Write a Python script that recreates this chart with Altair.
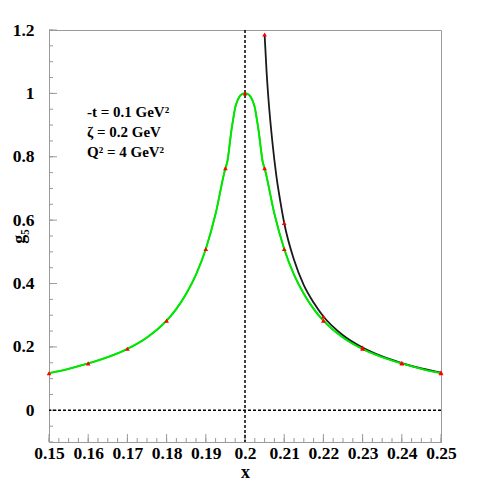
import altair as alt
import pandas as pd

# ---- data ----
green_x = [0.15, 0.155, 0.16, 0.165, 0.17, 0.175, 0.18, 0.1825, 0.185, 0.1875, 0.19, 0.1925,
           0.195, 0.1955, 0.196, 0.1965, 0.197, 0.1975, 0.198, 0.1985, 0.199, 0.2,
           0.201, 0.2015, 0.202, 0.2025, 0.203, 0.2035, 0.204, 0.2045, 0.205, 0.2075,
           0.21, 0.2125, 0.215, 0.2175, 0.22, 0.225, 0.23, 0.235, 0.24, 0.245, 0.25]
green_y = [0.117, 0.131, 0.148, 0.168, 0.194, 0.23, 0.283, 0.32, 0.368, 0.428, 0.509, 0.62,
           0.764, 0.785, 0.83, 0.88, 0.92, 0.955, 0.975, 0.988, 0.996, 1.0,
           0.996, 0.988, 0.975, 0.955, 0.92, 0.88, 0.83, 0.785, 0.764, 0.62,
           0.509, 0.428, 0.368, 0.32, 0.283, 0.23, 0.194, 0.168, 0.148, 0.131, 0.117]

black_x = [0.205, 0.2055, 0.206, 0.207, 0.208, 0.209, 0.21, 0.2125, 0.215, 0.2175,
           0.22, 0.225, 0.23, 0.235, 0.24, 0.245, 0.25]
black_y = [1.186, 1.07, 0.98, 0.845, 0.74, 0.66, 0.591, 0.475, 0.395, 0.34,
           0.296, 0.237, 0.198, 0.17, 0.149, 0.132, 0.119]

green_pts_x = [0.15, 0.16, 0.17, 0.18, 0.19, 0.195, 0.2, 0.205, 0.21, 0.22, 0.23, 0.24, 0.25]
green_pts_y = [0.117, 0.148, 0.194, 0.283, 0.509, 0.764, 1.0, 0.764, 0.509, 0.283, 0.194, 0.148, 0.117]
black_pts_x = [0.205, 0.21, 0.22, 0.23, 0.24, 0.25]
black_pts_y = [1.186, 0.591, 0.296, 0.198, 0.149, 0.119]

x_major = [0.15, 0.16, 0.17, 0.18, 0.19, 0.2, 0.21, 0.22, 0.23, 0.24, 0.25]
x_minor = [round(0.15 + 0.0025 * i, 4) for i in range(41)]
y_major = [0.0, 0.2, 0.4, 0.6, 0.8, 1.0, 1.2]
y_minor = [round(-0.1 + 0.05 * i, 3) for i in range(27)]

notes = ["-t = 0.1 GeV\u00b2", "\u03b6 = 0.2 GeV", "Q\u00b2 = 4 GeV\u00b2"]

# ---- layout / style ----
W, H = 392, 412
FONT = "Liberation Serif"
GRAY = "#9a9a9a"
xs = alt.Scale(domain=[0.15, 0.25], nice=False, zero=False)
ys = alt.Scale(domain=[-0.1, 1.2], nice=False, zero=False)

green_df = pd.DataFrame({"x": green_x, "y": green_y})
black_df = pd.DataFrame({"x": black_x, "y": black_y})
gp_df = pd.DataFrame({"x": green_pts_x, "y": green_pts_y})
bp_df = pd.DataFrame({"x": black_pts_x, "y": black_pts_y})

x_axis = alt.Axis(values=x_major, format=".2~f", ticks=False, grid=False,
                  domainColor=GRAY, labelFont=FONT, labelFontWeight="bold",
                  labelFontSize=17.5, labelColor="black", labelPadding=2,
                  labelOverlap=False, labelFlush=False,
                  title="x", titleFont=FONT, titleFontWeight="bold", titleFontSize=18,
                  titleColor="black", titleX=W / 2, titleY=35, titleBaseline="alphabetic")
y_axis = alt.Axis(values=y_major, format=".1~f", ticks=False, grid=False,
                  domainColor=GRAY, labelFont=FONT, labelFontWeight="bold",
                  labelFontSize=17.5, labelColor="black", labelPadding=15,
                  labelOverlap=False, labelFlush=False,
                  title="g\u2085", titleFont=FONT, titleFontWeight="bold", titleFontSize=18,
                  titleColor="black", titleX=-30, titleY=H / 2, titleBaseline="middle",
                  titleAlign="center", titleAngle=270)

X = alt.X("x:Q", scale=xs, axis=x_axis)
Y = alt.Y("y:Q", scale=ys, axis=y_axis)

xmaj = alt.Chart(pd.DataFrame({"x": x_major})).mark_rule(color=GRAY, strokeWidth=1).encode(
    x=X, y=alt.value(H), y2=alt.value(H - 8))
xmin = alt.Chart(pd.DataFrame({"x": x_minor})).mark_rule(color=GRAY, strokeWidth=1).encode(
    x=X, y=alt.value(H), y2=alt.value(H - 4))
ymaj = alt.Chart(pd.DataFrame({"y": y_major})).mark_rule(color=GRAY, strokeWidth=1).encode(
    y=Y, x=alt.value(0), x2=alt.value(8))
ymin = alt.Chart(pd.DataFrame({"y": y_minor})).mark_rule(color=GRAY, strokeWidth=1).encode(
    y=Y, x=alt.value(0), x2=alt.value(4))

vline = alt.Chart(pd.DataFrame({"x": [0.2]})).mark_rule(
    color="black", strokeWidth=1.5, strokeDash=[3, 2]).encode(x=X)
hline = alt.Chart(pd.DataFrame({"y": [0.0]})).mark_rule(
    color="black", strokeWidth=1.5, strokeDash=[3, 2]).encode(y=Y)

black_line = alt.Chart(black_df).mark_line(color="#1a1a1a", strokeWidth=1.8,
                                           interpolate="monotone").encode(x=X, y=Y)
green_line = alt.Chart(green_df).mark_line(color="#00e600", strokeWidth=1.8,
                                           interpolate="monotone").encode(x=X, y=Y)

bpts = alt.Chart(bp_df).mark_point(shape="triangle-up", filled=True, color="#ff0000",
                                   size=22, opacity=1).encode(x=X, y=Y)
gpts = alt.Chart(gp_df).mark_point(shape="triangle-up", filled=True, color="#ff0000",
                                   size=22, opacity=1).encode(x=X, y=Y)

note_layers = []
for i, t in enumerate(notes):
    note_layers.append(
        alt.Chart(pd.DataFrame({"t": [t]})).mark_text(
            font=FONT, fontWeight="bold", fontSize=15, color="black",
            align="left", baseline="alphabetic").encode(
            text="t:N", x=alt.value(38), y=alt.value(87 + 20 * i)))

chart = alt.layer(green_line, xmin, xmaj, ymin, ymaj, vline, hline,
                  black_line, green_line, bpts, gpts, *note_layers).properties(
    width=W, height=H,
    autosize=alt.AutoSizeParams(type="none"),
    padding={"left": 41, "top": 22, "right": 38, "bottom": 38},
).configure_view(stroke=GRAY, strokeWidth=1)

chart.save("out.html", embed_options={"renderer": "svg", "actions": False})
